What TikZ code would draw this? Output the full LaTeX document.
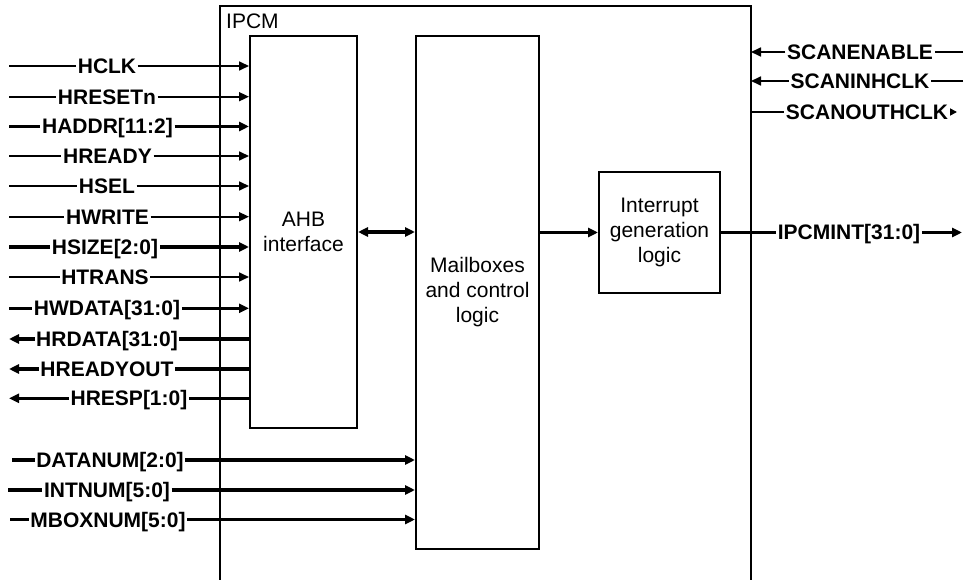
\documentclass[tikz,border=0pt]{standalone}
\usepackage{fontspec}
\setmainfont{Liberation Sans}
\usetikzlibrary{arrows.meta, positioning, calc}

\begin{document}
\begin{tikzpicture}[x=1pt, y=-1pt,
    sig/.style={line width=1.7pt},
    bus/.style={line width=3.4pt},
    tip/.style={-{Triangle[length=10pt,width=9pt]}},
    pin/.style={font=\fontsize{21}{25}\selectfont\bfseries, inner sep=1.5pt, text height=15pt, text depth=0pt},
    block/.style={draw, line width=2pt, align=center, font=\fontsize{21}{25}\selectfont}]
    % =========================================================
    % CANVAS AND IPCM OUTLINE
    % =========================================================
    \useasboundingbox (0,0) rectangle (970,580);
    \draw[line width=2pt] (220,580) -- (220,6) -- (751,6) -- (751,580);
    \coordinate (ipcm-e) at (751,6);
    \node[font=\fontsize{21}{25}\selectfont, anchor=west, inner sep=0pt, text height=15pt, text depth=0pt] (ipcm) at (226,21) {IPCM};

    % =========================================================
    % INTERNAL BLOCKS
    % =========================================================
    \node[block, minimum width=107, minimum height=392] (ahb) at (303.5,232) {AHB\\interface};
    \node[block, minimum width=123, minimum height=513] (mbox) at (477.5,292.5) {Mailboxes\\and control\\logic};
    \node[block, minimum width=121, minimum height=121] (irq) at (659.5,232.5) {Interrupt\\generation\\logic};

    \draw[bus, {Triangle[length=10pt,width=9pt]}-{Triangle[length=10pt,width=9pt]}] (ahb.east) -- (ahb.east -| mbox.west);
    \draw[bus, tip] (irq.west -| mbox.east) -- (irq.west);

    % =========================================================
    % AHB SLAVE INPUTS
    % =========================================================
    \foreach \nm/\txt/\xx/\yy/\lw in {hclk/HCLK/107/66/1.7pt, hresetn/HRESETn/107/96.7/1.7pt,
        haddr/{HADDR[11:2]}/107.5/126.5/3.4pt, hready/HREADY/107.5/156/1.7pt, hsel/HSEL/107/186/1.7pt,
        hwrite/HWRITE/107.5/216.7/1.7pt, hsize/{HSIZE[2:0]}/105/247/3.4pt, htrans/HTRANS/105/277/1.7pt,
        hwdata/{HWDATA[31:0]}/107/308.3/3.4pt}
    {
        \coordinate (\nm-in) at (9,\yy);
        \node[pin] (\nm) at (\xx,\yy) {\txt};
        \draw[line width=\lw] (\nm-in) -- (\nm);
        \draw[line width=\lw, tip] (\nm) -- (ahb.west |- \nm);
    }

    % =========================================================
    % AHB SLAVE OUTPUTS
    % =========================================================
    \foreach \nm/\txt/\xx/\yy in {hrdata/{HRDATA[31:0]}/107/339, hreadyout/HREADYOUT/107/369, hresp/{HRESP[1:0]}/129/398.3}
    {
        \coordinate (\nm-out) at (9,\yy);
        \node[pin] (\nm) at (\xx,\yy) {\txt};
        \draw[bus] (ahb.west |- \nm) -- (\nm);
        \draw[bus, tip] (\nm) -- (\nm-out);
    }

    % =========================================================
    % MAILBOX CONTROL INPUTS
    % =========================================================
    \foreach \nm/\txt/\xx/\yy/\sx in {datanum/{DATANUM[2:0]}/110/460/12, intnum/{INTNUM[5:0]}/107/490/8, mboxnum/{MBOXNUM[5:0]}/108/519.5/10}
    {
        \coordinate (\nm-in) at (\sx,\yy);
        \node[pin] (\nm) at (\xx,\yy) {\txt};
        \draw[bus] (\nm-in) -- (\nm);
        \draw[bus, tip] (\nm) -- (mbox.west |- \nm);
    }

    % =========================================================
    % SCAN TEST SIGNALS
    % =========================================================
    \foreach \nm/\txt/\yy in {scanenable/SCANENABLE/52, scaninhclk/SCANINHCLK/81}
    {
        \coordinate (\nm-in) at (963,\yy);
        \node[pin] (\nm) at (860,\yy) {\txt};
        \draw[sig] (\nm-in) -- (\nm);
        \draw[sig, tip] (\nm) -- (ipcm-e |- \nm);
    }
    \node[pin] (scanouthclk) at (867,112) {SCANOUTHCLK};
    \coordinate (scanouthclk-out) at (957,112);
    \draw[sig] (ipcm-e |- scanouthclk) -- (scanouthclk);
    \draw[sig, -{Triangle[length=7pt,width=7pt]}] (scanouthclk) -- (scanouthclk-out);

    % =========================================================
    % INTERRUPT OUTPUT
    % =========================================================
    \node[pin] (ipcmint) at (849,232.5) {IPCMINT[31:0]};
    \coordinate (ipcmint-out) at (962,232.5);
    \draw[bus] (irq.east) -- (ipcmint);
    \draw[bus, tip] (ipcmint) -- (ipcmint-out);
\end{tikzpicture}
\end{document}
